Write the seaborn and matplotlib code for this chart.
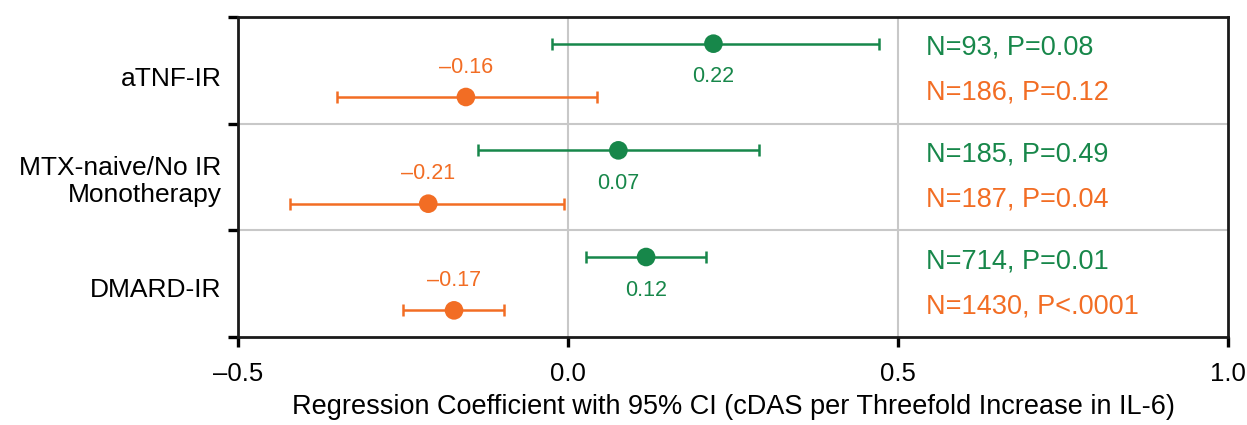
import numpy as np
import pandas as pd
import seaborn as sns
from matplotlib import pyplot as plt

groups = ['aTNF-IR', 'MTX-naive/No IR\nMonotherapy', 'DMARD-IR']
green_est = [0.22, 0.076, 0.118]
green_lo = [-0.024, -0.136, 0.027]
green_hi = [0.471, 0.289, 0.209]
green_lab = ['0.22', '0.07', '0.12']
green_np = ['N=93, P=0.08', 'N=185, P=0.49', 'N=714, P=0.01']
orange_est = [-0.155, -0.212, -0.173]
orange_lo = [-0.351, -0.421, -0.25]
orange_hi = [0.044, -0.006, -0.097]
orange_lab = ['\u20130.16', '\u20130.21', '\u20130.17']
orange_np = ['N=186, P=0.12', 'N=187, P=0.04', 'N=1430, P<.0001']
xticks = [-0.5, 0.0, 0.5, 1.0]
xticklabels = ['\u20130.5', '0.0', '0.5', '1.0']

GREEN = '#17874a'
ORANGE = '#f26d24'

sns.set_style('white')
plt.rcParams['font.family'] = ['Liberation Sans', 'DejaVu Sans']
plt.rcParams['text.color'] = 'black'
plt.rcParams['axes.labelcolor'] = 'black'
plt.rcParams['xtick.color'] = 'black'
plt.rcParams['ytick.color'] = 'black'

idx = np.arange(len(groups))
df = pd.DataFrame({
    'est': green_est + orange_est,
    'lo': green_lo + orange_lo,
    'hi': green_hi + orange_hi,
    'y': list(idx + 0.25) + list(idx + 0.75),
    'series': ['green'] * 3 + ['orange'] * 3,
})

fig = plt.figure(figsize=(12.47, 4.25), dpi=100)
ax = fig.add_axes([0.191, 0.207, 0.794, 0.753])

# grid lines
for gx in [0.0, 0.5]:
    ax.axvline(gx, color='#c8c8c8', lw=1.5, zorder=0)
for gy in [1, 2]:
    ax.axhline(gy, color='#c8c8c8', lw=1.5, zorder=0)

palette = {'green': GREEN, 'orange': ORANGE}
for name, sub in df.groupby('series'):
    ax.errorbar(sub['est'], sub['y'],
                xerr=[sub['est'] - sub['lo'], sub['hi'] - sub['est']],
                fmt='none', ecolor=palette[name], elinewidth=1.8,
                capsize=4, capthick=1.8, zorder=2)
sns.scatterplot(data=df, x='est', y='y', hue='series', palette=palette,
                s=180, edgecolor='none', legend=False, ax=ax, zorder=3)

for i in idx:
    ax.text(green_est[i], i + 0.25 + 0.31, green_lab[i], color=GREEN,
            fontsize=15.5, ha='center', va='center')
    ax.text(orange_est[i], i + 0.75 - 0.28, orange_lab[i], color=ORANGE,
            fontsize=15.5, ha='center', va='center')
    ax.text(0.542, i + 0.29, green_np[i], color=GREEN, fontsize=19.5,
            ha='left', va='center')
    ax.text(0.542, i + 0.71, orange_np[i], color=ORANGE, fontsize=19.5,
            ha='left', va='center')

ax.set_xlim(-0.5, 1.0)
ax.set_ylim(3, 0)
ax.set_xticks(xticks)
ax.set_xticklabels(xticklabels, fontsize=18.5)
ax.set_yticks([0, 1, 2, 3])
ax.set_yticklabels([])
ax.set_yticks([0.56, 1.5, 2.54], minor=True)
ax.set_yticklabels(groups, minor=True, fontsize=19)
ax.tick_params(axis='y', which='minor', length=0, pad=12)
ax.tick_params(axis='both', which='major', direction='out', length=7,
               width=2.4, color='black', bottom=True, left=True)
ax.tick_params(axis='x', pad=11)
for sp in ax.spines.values():
    sp.set_linewidth(2)
    sp.set_color('#1a1a1a')

ax.set_xlabel('Regression Coefficient with 95% CI (cDAS per Threefold Increase in IL-6)',
              fontsize=19.5, labelpad=6)
ax.set_ylabel('')

fig.savefig('out.png', dpi=100)
